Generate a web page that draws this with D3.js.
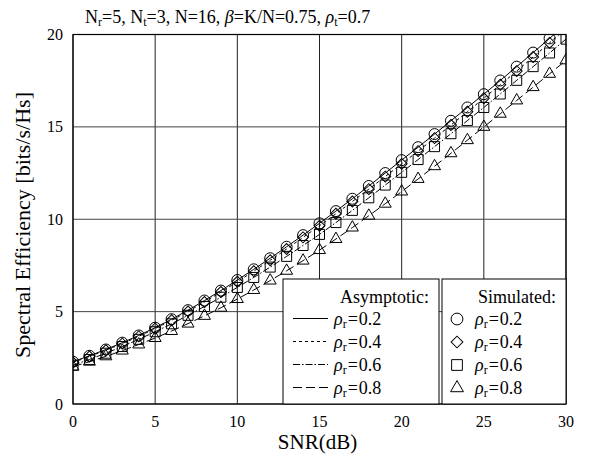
<!DOCTYPE html>
<html>
<head>
<meta charset="utf-8">
<script src="https://cdn.jsdelivr.net/npm/d3@7"></script>
<style>
body { margin: 0; background: #fff; }
text { font-family: "Liberation Serif", "Times New Roman", serif; fill: #000; }
</style>
</head>
<body>
<script>
// SNR axis (dB)
var snr = d3.range(0, 31);

// simulated / asymptotic values (bits/s/Hz)
var se02 = [2.29, 2.61, 2.95, 3.32, 3.71, 4.13, 4.59, 5.08, 5.60, 6.14, 6.71,
	7.29, 7.89, 8.51, 9.14, 9.78, 10.44, 11.11, 11.80, 12.50, 13.20,
	13.90, 14.61, 15.33, 16.05, 16.77, 17.51, 18.26, 19.02, 19.79, 20.56];
var se04 = [2.25, 2.57, 2.91, 3.27, 3.66, 4.08, 4.53, 5.01, 5.52, 6.06, 6.62,
	7.19, 7.78, 8.39, 9.02, 9.65, 10.30, 10.96, 11.63, 12.31, 13.00,
	13.69, 14.39, 15.10, 15.82, 16.55, 17.28, 18.02, 18.78, 19.55, 20.32];
var se06 = [2.10, 2.41, 2.75, 3.11, 3.50, 3.91, 4.34, 4.80, 5.28, 5.78, 6.31,
	6.85, 7.41, 7.99, 8.58, 9.18, 9.82, 10.48, 11.16, 11.85, 12.54,
	13.23, 13.93, 14.63, 15.34, 16.05, 16.78, 17.52, 18.26, 19.00, 19.75];
var se08 = [2.02, 2.29, 2.58, 2.89, 3.22, 3.57, 3.95, 4.35, 4.77, 5.21, 5.68,
	6.17, 6.68, 7.21, 7.76, 8.33, 8.93, 9.55, 10.19, 10.84, 11.50,
	12.18, 12.87, 13.57, 14.28, 15.00, 15.71, 16.43, 17.15, 17.87, 18.60];

var rhoLabels = ["0.2", "0.4", "0.6", "0.8"];
var xTicks = [0, 5, 10, 15, 20, 25, 30];
var yTicks = [0, 5, 10, 15, 20];

var series = [se02, se04, se06, se08];
var dashes = [null, "3,3", "7,2,1.5,2", "9,4"];
// diamond = square turned 45 degrees
var shapes = [d3.symbolCircle, d3.symbolSquare, d3.symbolSquare, d3.symbolTriangle];
var rot = [0, 45, 0, 0];
var sizes = [95, 60, 100, 62];

var width = 589, height = 457;
var margin = {left: 73, right: 23, top: 34.5, bottom: 53};

var svg = d3.select("body")
	.append("svg")
	.attr("width", width)
	.attr("height", height);

var x = d3.scaleLinear().domain([0, 30]).range([margin.left, width - margin.right]);
var y = d3.scaleLinear().domain([0, 20]).range([height - margin.bottom, margin.top]);

// grid
svg.append("g").selectAll("line")
	.data(xTicks)
	.enter().append("line")
	.attr("x1", d => x(d)).attr("x2", d => x(d))
	.attr("y1", y(0)).attr("y2", y(20))
	.attr("stroke", "#222").attr("stroke-width", 1);

svg.append("g").selectAll("line")
	.data(yTicks)
	.enter().append("line")
	.attr("x1", x(0)).attr("x2", x(30))
	.attr("y1", d => y(d)).attr("y2", d => y(d))
	.attr("stroke", "#444").attr("stroke-width", 1);

// tick labels
svg.append("g").selectAll("text")
	.data(xTicks)
	.enter().append("text")
	.attr("x", d => x(d))
	.attr("y", y(0) + 23)
	.attr("text-anchor", "middle")
	.style("font-size", "16px")
	.text(d => d);

svg.append("g").selectAll("text")
	.data(yTicks)
	.enter().append("text")
	.attr("x", x(0) - 10)
	.attr("y", d => y(d) + 5.5)
	.attr("text-anchor", "end")
	.style("font-size", "16px")
	.text(d => d);

// axis titles
svg.append("text")
	.attr("x", x(15) - 2)
	.attr("y", y(0) + 45)
	.attr("text-anchor", "middle")
	.style("font-size", "21px")
	.text("SNR(dB)");

svg.append("text")
	.attr("transform", "translate(30,225) rotate(-90)")
	.attr("text-anchor", "middle")
	.style("font-size", "22px")
	.text("Spectral Efficiency [bits/s/Hs]");

// title with subscripts
var title = svg.append("text")
	.attr("x", 85)
	.attr("y", 23)
	.style("font-size", "18px");
function sub(t) {
	title.append("tspan").attr("baseline-shift", "-25%").style("font-size", "12px").text(t);
}
title.append("tspan").text("N");
sub("r");
title.append("tspan").text("=5, N");
sub("t");
title.append("tspan").text("=3, N=16, ");
title.append("tspan").style("font-style", "italic").text("β");
title.append("tspan").text("=K/N=0.75, ");
title.append("tspan").style("font-style", "italic").text("ρ");
sub("t");
title.append("tspan").text("=0.7");

// clip to plot area
svg.append("clipPath").attr("id", "clip")
	.append("rect")
	.attr("x", x(0)).attr("y", y(20))
	.attr("width", x(30) - x(0)).attr("height", y(0) - y(20));

var plot = svg.append("g").attr("clip-path", "url(#clip)");

var line = d3.line()
	.x((d, i) => x(snr[i]))
	.y(d => y(d));

series.forEach(function(s, k) {
	plot.append("path")
		.attr("d", line(s))
		.attr("fill", "none")
		.attr("stroke", "#000")
		.attr("stroke-width", 1)
		.attr("stroke-dasharray", dashes[k]);

	plot.append("g").selectAll("path")
		.data(s)
		.enter().append("path")
		.attr("transform", (d, i) => "translate(" + x(snr[i]) + "," + y(d) + ") rotate(" + rot[k] + ")")
		.attr("d", d3.symbol().type(shapes[k]).size(sizes[k]))
		.attr("fill", "none")
		.attr("stroke", "#000")
		.attr("stroke-width", 1);
});

// frame
svg.append("rect")
	.attr("x", x(0)).attr("y", y(20))
	.attr("width", x(30) - x(0)).attr("height", y(0) - y(20))
	.attr("fill", "none")
	.attr("stroke", "#000")
	.attr("stroke-width", 1.2);

// legends
var legTop = 279, legBottom = y(0), rowH = 23;

var leg1 = svg.append("g");
leg1.append("rect")
	.attr("x", 283).attr("y", legTop)
	.attr("width", 439 - 283).attr("height", legBottom - legTop)
	.attr("fill", "#fff").attr("stroke", "#000");
leg1.append("text")
	.attr("x", 429).attr("y", legTop + 24)
	.attr("text-anchor", "end")
	.style("font-size", "18px")
	.text("Asymptotic:");

var leg2 = svg.append("g");
leg2.append("rect")
	.attr("x", 442).attr("y", legTop)
	.attr("width", x(30) - 442).attr("height", legBottom - legTop)
	.attr("fill", "#fff").attr("stroke", "#000");
leg2.append("text")
	.attr("x", 556).attr("y", legTop + 24)
	.attr("text-anchor", "end")
	.style("font-size", "18px")
	.text("Simulated:");

function rhoText(g, tx, ty, val) {
	var t = g.append("text").attr("x", tx).attr("y", ty).style("font-size", "18px");
	t.append("tspan").style("font-style", "italic").text("ρ");
	t.append("tspan").attr("baseline-shift", "-25%").style("font-size", "12px").text("r");
	t.append("tspan").attr("dx", 1).text("=");
	t.append("tspan").attr("dx", 1).text(val);
}

rhoLabels.forEach(function(r, k) {
	var ry = legTop + 46 + k * rowH;
	leg1.append("line")
		.attr("x1", 293).attr("x2", 328)
		.attr("y1", ry - 6.5).attr("y2", ry - 6.5)
		.attr("stroke", "#000")
		.attr("stroke-dasharray", dashes[k]);
	rhoText(leg1, 334, ry, r);

	leg2.append("path")
		.attr("transform", "translate(457," + (ry - 6) + ") rotate(" + rot[k] + ")")
		.attr("d", d3.symbol().type(shapes[k]).size(sizes[k] * 1.15))
		.attr("fill", "none")
		.attr("stroke", "#000");
	rhoText(leg2, 475, ry, r);
});
</script>
</body>
</html>
